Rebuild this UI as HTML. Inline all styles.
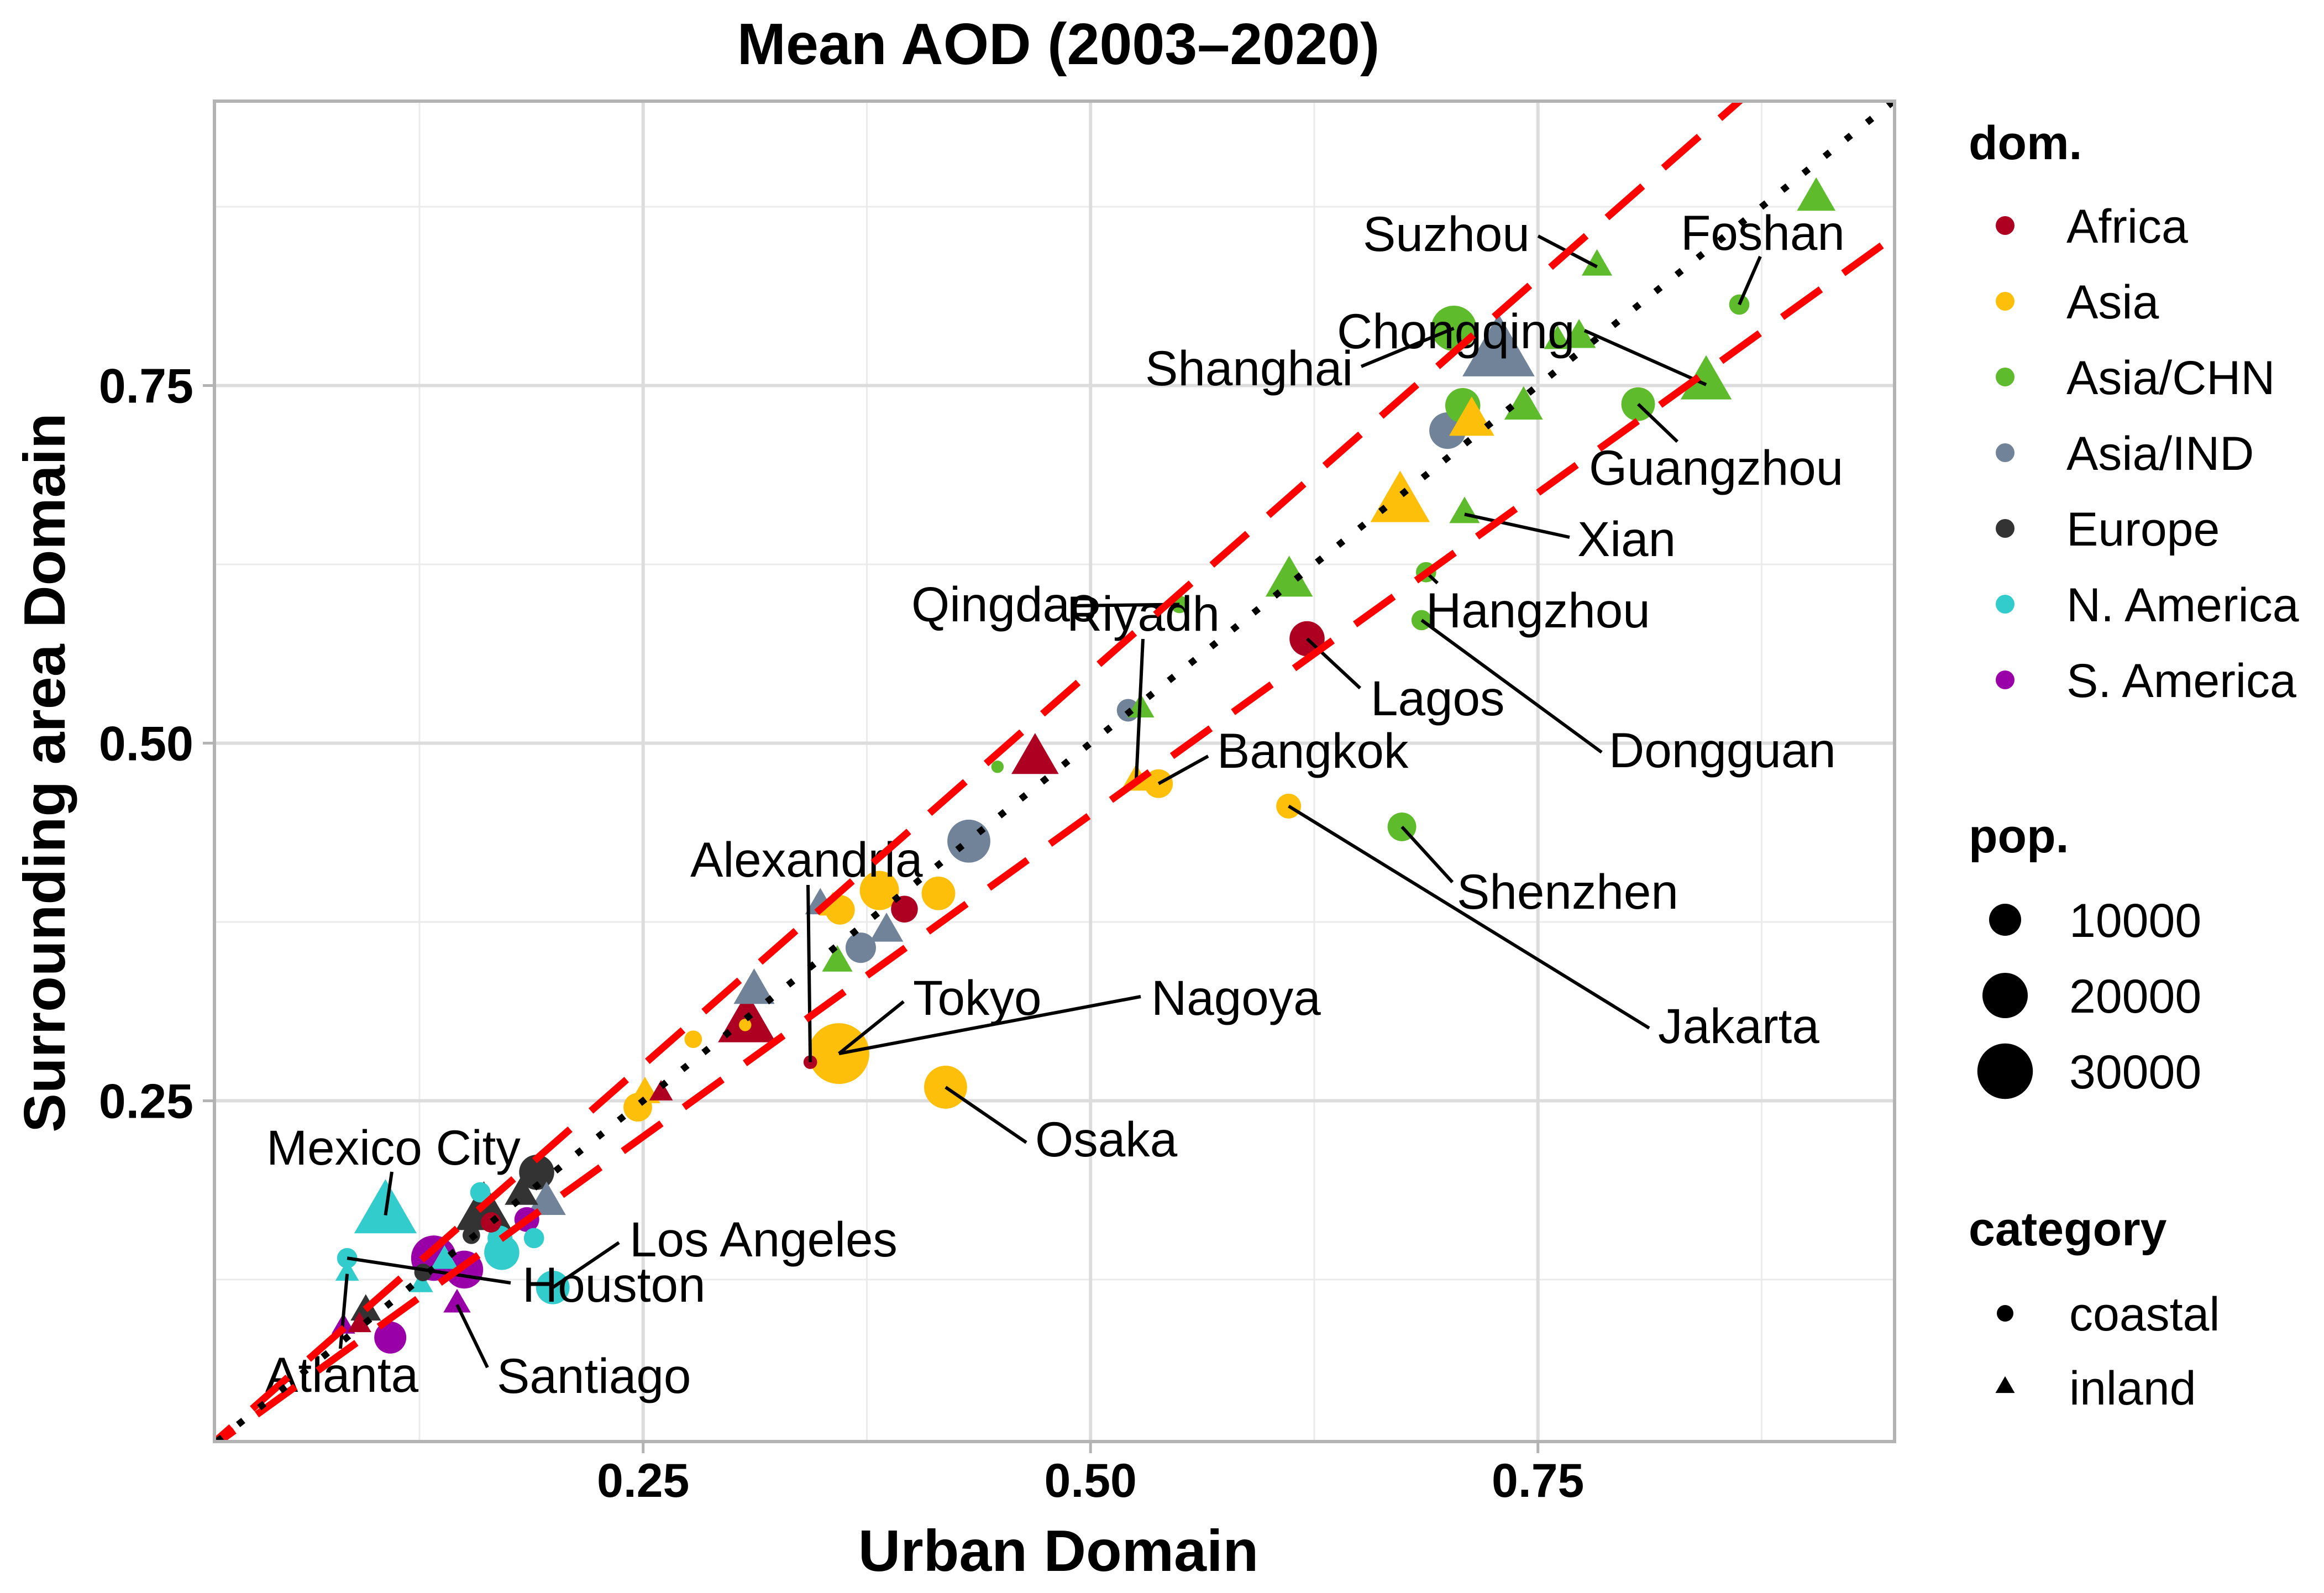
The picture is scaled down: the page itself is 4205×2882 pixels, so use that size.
<!DOCTYPE html>
<html><head><meta charset="utf-8"><title>Mean AOD (2003–2020)</title>
<style>html,body{margin:0;padding:0;background:#fff}svg{display:block}</style></head>
<body>
<svg id="chart" xmlns="http://www.w3.org/2000/svg" width="4205" height="2882" viewBox="0 0 4205 2882" font-family="Liberation Sans, Arial, sans-serif">
<rect x="0" y="0" width="4205" height="2882" fill="#ffffff"/>
<text x="1915" y="116" font-size="106" font-weight="bold" text-anchor="middle">Mean AOD (2003–2020)</text>
<g id="grid"></g>
<g id="axes"></g>
<g id="pts" clip-path="url(#pc)"></g>
<g id="lbls"></g>
<g id="refs" clip-path="url(#pc)"></g>
<rect x="388" y="183" width="3040" height="2425" fill="none" stroke="#b3b3b3" stroke-width="6"/>
<text x="1915" y="2842" font-size="106" font-weight="bold" text-anchor="middle">Urban Domain</text>
<text transform="translate(117,1398) rotate(-90)" font-size="106" font-weight="bold" text-anchor="middle">Surrounding area Domain</text>
<g id="legend"></g>
<defs><clipPath id="pc"><rect x="388" y="183" width="3040" height="2425"/></clipPath></defs>
</svg>
<script>
const domains = ["Africa","Asia","Asia/CHN","Asia/IND","Europe","N. America","S. America"];
const domainColors = ["#AE0020","#FDBF0A","#5DBB2C","#708399","#333333","#33CCCC","#9900A8"];
const xTicks = [0.25, 0.50, 0.75];
const xTickLabels = ["0.25","0.50","0.75"];
const yTicks = [0.25, 0.50, 0.75];
const yTickLabels = ["0.25","0.50","0.75"];
const minorTicks = [0.125, 0.375, 0.625, 0.875];
const popLegend = [10000, 20000, 30000];
const urbanX = [0.9055,0.783,0.8625,0.703,0.728,0.773,0.761,0.844,0.806,0.6995,0.708,0.713,0.742,0.673,0.709,0.611,0.6875,0.685,0.621,0.674,0.6107,0.5497,0.521,0.528,0.5255,0.538,0.469,0.448,0.432,0.382,0.415,0.396,0.349,0.356,0.360,0.3716,0.386,0.3585,0.312,0.308,0.307,0.278,0.3434,0.3594,0.419,0.251,0.247,0.260,0.106,0.0846,0.0846,0.126,0.133,0.150,0.139,0.127,0.171,0.170,0.1995,0.189,0.159,0.161,0.165,0.154,0.1905,0.182,0.196,0.185,0.146,0.1087,0.0825,0.095,0.0915];
const surroundY = [0.880,0.833,0.8066,0.790,0.771,0.783,0.781,0.7506,0.737,0.7185,0.736,0.724,0.734,0.6665,0.660,0.612,0.6195,0.586,0.573,0.4415,0.456,0.597,0.523,0.5235,0.473,0.4717,0.488,0.4835,0.4315,0.397,0.395,0.384,0.3865,0.385,0.3835,0.357,0.368,0.3465,0.326,0.3026,0.303,0.293,0.277,0.283,0.2595,0.2545,0.2455,0.255,0.170,0.140,0.129,0.121,0.140,0.132,0.138,0.130,0.144,0.154,0.1195,0.154,0.186,0.171,0.165,0.156,0.200,0.184,0.178,0.167,0.1075,0.0845,0.092,0.1025,0.093];
const population = [8000,5000,4000,20000,28000,6000,4000,14000,11000,13000,12000,11000,8000,19000,5000,12000,4000,4000,12000,8000,6000,3000,5000,4000,5000,8000,12000,1500,18000,15000,11000,7000,5000,4000,8500,9000,6000,5000,9000,18000,1500,3000,1800,36000,18000,5000,8000,3000,21000,4000,3000,3000,20000,14000,4000,3000,12000,6000,11000,4000,4000,17000,4000,3000,12000,6000,8000,6000,4000,10000,3000,5000,3000];
const domainIdx = [2,2,2,2,3,2,2,2,2,3,2,1,2,1,2,2,2,2,0,2,1,2,3,2,1,1,0,2,3,1,1,0,3,1,1,3,3,2,3,0,1,1,0,1,1,1,1,0,5,5,5,5,6,6,5,4,5,5,5,5,5,4,0,4,4,4,3,6,6,6,6,4,0];
const inland = [1,1,0,0,1,1,1,1,0,0,0,1,1,1,1,1,0,0,0,0,0,0,0,1,1,0,1,0,0,0,0,0,1,1,0,0,1,1,1,1,0,0,0,0,0,1,0,1,1,0,1,1,0,0,1,0,0,0,0,0,0,1,0,0,0,1,1,0,1,0,1,1,1];
const labelNames = ["Mexico City","Los Angeles","Houston","Atlanta","Santiago","Qingdao","Riyadh","Bangkok","Alexandria","Tokyo","Nagoya","Osaka","Suzhou","Foshan","Chongqing","Shanghai","Guangzhou","Xian","Hangzhou","Dongguan","Lagos","Shenzhen","Jakarta"];
const labelPoint = [48,58,49,50,68,21,24,25,42,43,43,44,1,2,7,3,8,14,16,17,18,19,20];
// label layout (pixel placement of repelled text, not data)
const labelLayout = [[482,2107,709,2120],[1139,2273,1120,2248],[945,2355,924,2321],[480,2518,616,2440],[899,2520,882,2474],[1649,1124,1941,1096],[1930,1141,2068,1156],[2202,1389,2186,1368],[1249,1586,1462,1601],[1652,1836,1635,1812],[2083,1836,2064,1803],[1873,2092,1857,2067],[2466,454,2783,427],[3041,452,3185,464],[2419,630,2867,598],[2072,697,2463,663],[2875,877,3035,799],[2854,1006,2840,972],[2580,1135,2601,1055],[2911,1388,2898,1361],[2480,1294,2461,1245],[2636,1644,2628,1596],[3000,1887,2984,1860]];

const NS = "http://www.w3.org/2000/svg";
const PL=388, PR=3428, PT=183, PB=2608;
function X(v){ return 354.2 + 3238*v; }
function Y(v){ return 2638.5 - 2588*v; }
function R(p){ return 0.29*Math.sqrt(p); }
function mk(tag, attrs, parent){ const e=document.createElementNS(NS,tag); for(const k in attrs) e.setAttribute(k, attrs[k]); parent.appendChild(e); return e; }
function triPts(cx, cy, r){ const c=1.555*r, h=c*0.5, w=c*0.866; return `${cx},${cy-c} ${cx-w},${cy+h} ${cx+w},${cy+h}`; }

const grid=document.getElementById('grid');
minorTicks.forEach(v=>{
  const a=mk('line',{x1:X(v),x2:X(v),y1:PT,y2:PB,stroke:'#ebebeb','stroke-width':3},grid);
   
  const b=mk('line',{x1:PL,x2:PR,y1:Y(v),y2:Y(v),stroke:'#ebebeb','stroke-width':3},grid);
   
});
const axes=document.getElementById('axes');
xTicks.forEach((v,i)=>{
  const a=mk('line',{x1:X(v),x2:X(v),y1:PT,y2:PB,stroke:'#dcdcdc','stroke-width':6},grid);
   
  const t=mk('line',{x1:X(v),x2:X(v),y1:PB,y2:PB+21,stroke:'#b3b3b3','stroke-width':5},axes);
   
  const l=mk('text',{x:X(v),y:2708,'font-size':86,'font-weight':'bold','text-anchor':'middle'},axes);
  l.textContent=xTickLabels[i];
   
});
yTicks.forEach((v,i)=>{
  const a=mk('line',{x1:PL,x2:PR,y1:Y(v),y2:Y(v),stroke:'#dcdcdc','stroke-width':6},grid);
   
  const t=mk('line',{x1:PL-21,x2:PL,y1:Y(v),y2:Y(v),stroke:'#b3b3b3','stroke-width':5},axes);
   
  const l=mk('text',{x:350,y:Y(v)+31,'font-size':88,'font-weight':'bold','text-anchor':'end'},axes);
  l.textContent=yTickLabels[i];
   
});

const pts=document.getElementById('pts');
const order=population.map((p,i)=>i).sort((a,b)=>population[b]-population[a]);
order.forEach(i=>{
  const cx=X(urbanX[i]), cy=Y(surroundY[i]), r=R(population[i]), col=domainColors[domainIdx[i]];
  let e;
  if(inland[i]) e=mk('polygon',{points:triPts(cx,cy,r),fill:col},pts);
  else e=mk('circle',{cx:cx,cy:cy,r:r,fill:col},pts);
  
  
});

const lbls=document.getElementById('lbls');
labelNames.forEach((n,i)=>{
  const L=labelLayout[i], p=labelPoint[i];
  const s=mk('line',{x1:L[2],y1:L[3],x2:X(urbanX[p]),y2:Y(surroundY[p]),stroke:'#000','stroke-width':6},lbls);
  
  
  const t=mk('text',{x:L[0],y:L[1],'font-size':89},lbls);
  t.textContent=n;
  
  
});

const refs=document.getElementById('refs');
const refSlopes=[1.1,0.9];
refSlopes.forEach(k=>{
  const e=mk('line',{x1:X(0),y1:Y(0),x2:X(1),y2:Y(k),stroke:'#ff0000','stroke-width':13,'stroke-dasharray':'86 50'},refs);
  
  
});
const one=mk('line',{x1:X(0),y1:Y(0),x2:X(1),y2:Y(1),stroke:'#000','stroke-width':12,'stroke-dasharray':'12 37'},refs);



const lg=document.getElementById('legend');
function T(x,y,s,bold,txt,name){ const t=mk('text',{x:x,y:y,'font-size':s},lg); if(bold) t.setAttribute('font-weight','bold'); t.textContent=txt;   return t; }
T(3562,288,86,true,'dom.','legend-title-dom');
domains.forEach((d,i)=>{
  const cy=408+137*i;
  const c=mk('circle',{cx:3628,cy:cy,r:17,fill:domainColors[i]},lg);
  
  
  T(3739,cy+31,86,false,d,'legend-entry-dom');
});
T(3562,1542,86,true,'pop.','legend-title-pop');
popLegend.forEach((p,i)=>{
  const cy=1664+137*i;
  const c=mk('circle',{cx:3628,cy:cy,r:R(p),fill:'#000'},lg);
  
  
  T(3744,cy+31,86,false,String(p),'legend-entry-pop');
});
T(3562,2253,86,true,'category','legend-title-category');
const cc=mk('circle',{cx:3628,cy:2376,r:15,fill:'#000'},lg);


T(3744,2407,86,false,'coastal','legend-entry-coastal');
const ct=mk('polygon',{points:triPts(3628,2510,13),fill:'#000'},lg);


T(3744,2541,86,false,'inland','legend-entry-inland');
</script>
</body></html>
